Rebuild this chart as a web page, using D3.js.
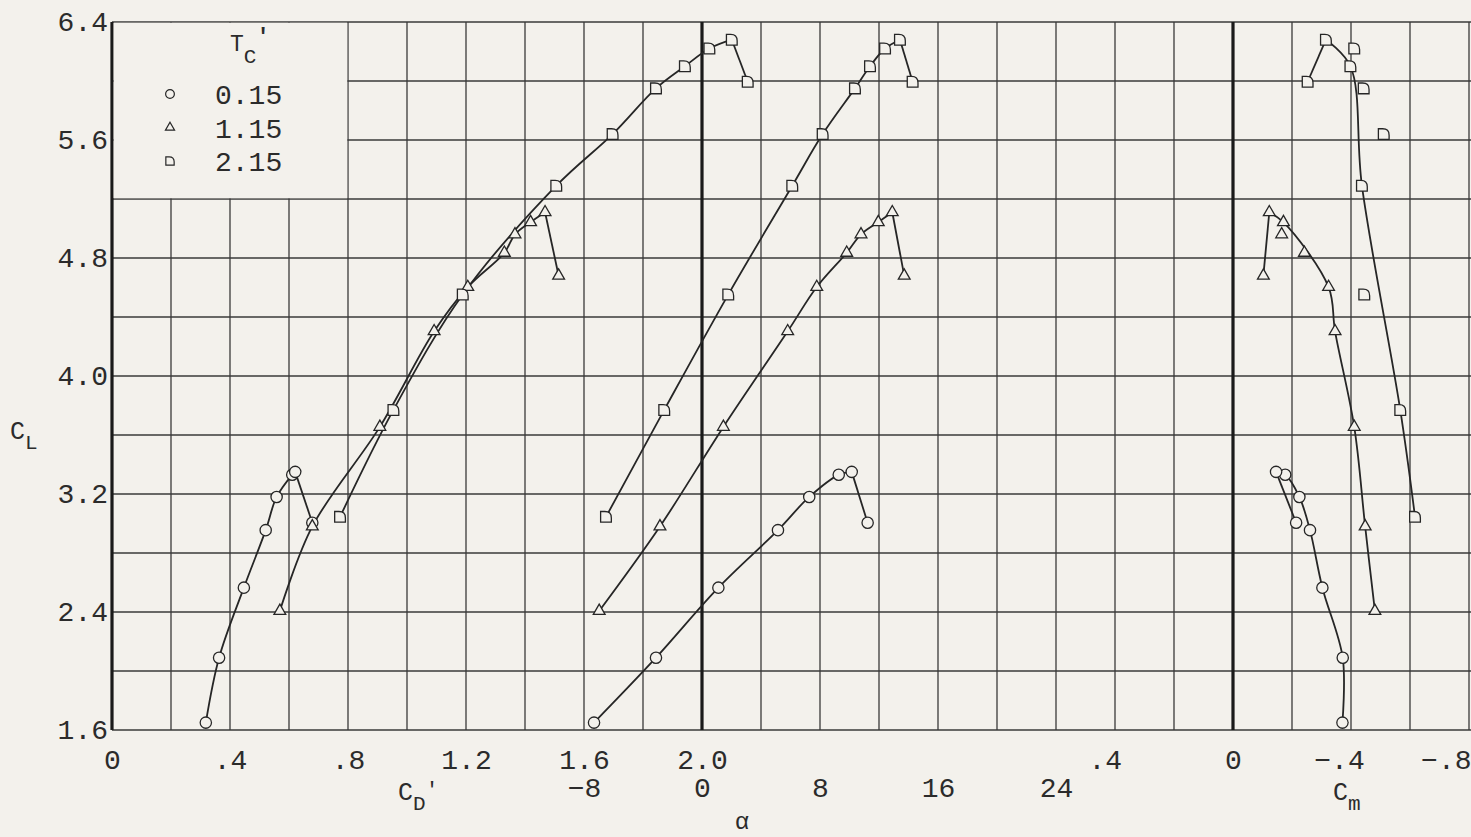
<!DOCTYPE html>
<html>
<head>
<meta charset="utf-8">
<script src="https://cdn.jsdelivr.net/npm/d3@7"></script>
<style>
  html, body { margin: 0; padding: 0; background: #f3f1ec; }
  svg text { font-family: "Liberation Mono", "DejaVu Sans Mono", monospace; fill: #2b2b2b; }
</style>
</head>
<body>
<div id="chart"></div>
<script>
// tick labels
const clTicks = [1.6, 2.4, 3.2, 4.0, 4.8, 5.6, 6.4];
const cdTicks = [0, 0.4, 0.8, 1.2, 1.6, 2.0];
const cdTickLabels = ["0", ".4", ".8", "1.2", "1.6", "2.0"];
const alphaTicks = [-8, 0, 8, 16, 24];
const alphaTickLabels = ["\u22128", "0", "8", "16", "24"];
const cmTicks = [0, -0.4, -0.8];
const cmTickLabels = ["0", "\u2212.4", "\u2212.8"];
const strayTicks = [27.3];          // lone ".4" printed under the alpha grid
const strayTickLabels = [".4"];

const tcValues = ["0.15", "1.15", "2.15"];

// Tc' = 0.15 (circles)
const cl015    = [1.65, 2.09, 2.565, 2.955, 3.18, 3.33, 3.35, 3.005];
const cd015    = [0.318, 0.363, 0.447, 0.521, 0.558, 0.611, 0.621, 0.679];
const alpha015 = [-7.32, -3.12, 1.11, 5.15, 7.27, 9.27, 10.15, 11.23];
const cm015    = [-0.371, -0.372, -0.303, -0.261, -0.225, -0.177, -0.146, -0.214];
const cmSkip015 = [];

// Tc' = 1.15 (triangles)
const cl115    = [2.407, 2.98, 3.655, 4.303, 4.603, 4.835, 4.96, 5.043, 5.11, 4.68];
const cd115    = [0.569, 0.679, 0.908, 1.092, 1.206, 1.330, 1.366, 1.419, 1.468, 1.514];
const alpha115 = [-6.97, -2.85, 1.45, 5.81, 7.78, 9.81, 10.78, 11.95, 12.90, 13.71];
const cm115    = [-0.481, -0.448, -0.411, -0.346, -0.324, -0.242, -0.165, -0.171, -0.123, -0.103];
const cmSkip115 = [5, 6];

// Tc' = 2.15 (flagged)
const cl215    = [3.045, 3.77, 4.552, 5.29, 5.64, 5.95, 6.10, 6.22, 6.28, 5.995];
const cd215    = [0.773, 0.954, 1.189, 1.506, 1.697, 1.844, 1.942, 2.025, 2.101, 2.155];
const alpha215 = [-6.51, -2.56, 1.78, 6.12, 8.18, 10.37, 11.39, 12.41, 13.42, 14.28];
const cm215    = [-0.617, -0.567, -0.445, -0.437, -0.511, -0.443, -0.398, -0.411, -0.315, -0.253];
const cmSkip215 = [2, 4, 5, 7];

const bg = "#f3f1ec";
const ink = "#262626";

const width = 1471, height = 837;
const gLeft = 112, gTop = 22, cell = 59, cols = 23, rows = 12;
const gRight = gLeft + cols * cell;
const gBottom = gTop + rows * cell;

const svg = d3.select("#chart")
    .append("svg")
    .attr("width", width)
    .attr("height", height)
    .style("display", "block")
    .style("background", bg);

// scales: one shared square grid, three x quantities on it
const col = d3.scaleLinear().domain([0, cols]).range([gLeft, gRight]);
const y = d3.scaleLinear().domain([1.6, 6.4]).range([gBottom, gTop]);
const xCd = d3.scaleLinear().domain([0, 2.0]).range([col(0), col(10)]);
const xAlpha = d3.scaleLinear().domain([0, 8]).range([col(10), col(12)]);
const xCm = d3.scaleLinear().domain([0, -0.8]).range([col(19), col(23)]);

// grid
const grid = svg.append("g");
grid.selectAll("line.h")
    .data(d3.range(rows + 1))
    .enter()
    .append("line")
    .attr("x1", gLeft).attr("x2", width)
    .attr("y1", j => y(1.6 + 0.4 * j)).attr("y2", j => y(1.6 + 0.4 * j))
    .style("stroke", "#3a3a3a")
    .style("stroke-width", 1.3);

grid.selectAll("line.v")
    .data(d3.range(cols + 1))
    .enter()
    .append("line")
    .attr("x1", i => col(i)).attr("x2", i => col(i))
    .attr("y1", gTop).attr("y2", gBottom)
    .style("stroke", i => (i === 0 || i === 10 || i === 19) ? "#1a1a1a" : "#3a3a3a")
    .style("stroke-width", i => (i === 0 || i === 10 || i === 19) ? 3.2 : 1.3);

// blank the grid behind the legend
svg.append("rect")
    .attr("x", col(0) + 1.7)
    .attr("y", y(6.4) + 0.8)
    .attr("width", col(4) - col(0) - 2.5)
    .attr("height", y(5.2) - y(6.4) - 1.6)
    .style("fill", bg);

// axes
const fs = 28;
function styleAxis(g) {
    g.select(".domain").remove();
    g.selectAll("text")
        .style("font-size", fs + "px")
        .style("font-family", '"Liberation Mono", "DejaVu Sans Mono", monospace')
        .style("fill", "#2b2b2b");
}

svg.append("g")
    .attr("transform", `translate(${gLeft},0)`)
    .call(d3.axisLeft(y).tickValues(clTicks).tickFormat(d3.format(".1f")).tickSize(0).tickPadding(4))
    .call(styleAxis);

svg.append("g")
    .attr("transform", `translate(0,${gBottom})`)
    .call(d3.axisBottom(xCd).tickValues(cdTicks).tickFormat((d, i) => cdTickLabels[i]).tickSize(0).tickPadding(19))
    .call(styleAxis);

svg.append("g")
    .attr("transform", `translate(0,${gBottom})`)
    .call(d3.axisBottom(xAlpha).tickValues(strayTicks).tickFormat((d, i) => strayTickLabels[i]).tickSize(0).tickPadding(19))
    .call(styleAxis);

const cmAxis = svg.append("g")
    .attr("transform", `translate(0,${gBottom})`)
    .call(d3.axisBottom(xCm).tickValues(cmTicks).tickFormat((d, i) => cmTickLabels[i]).tickSize(0).tickPadding(19))
    .call(styleAxis);
cmAxis.selectAll("text").filter((d, i) => i === 1)
    .attr("dx", -12);
cmAxis.selectAll("text").filter((d, i) => i === cmTicks.length - 1)
    .attr("text-anchor", "end")
    .attr("dx", 2);

svg.append("g")
    .attr("transform", `translate(0,${gBottom})`)
    .call(d3.axisBottom(xAlpha).tickValues(alphaTicks).tickFormat((d, i) => alphaTickLabels[i]).tickSize(0).tickPadding(47))
    .call(styleAxis);

// axis titles
function subLabel(x, yb, main, sub, extra) {
    const t = svg.append("text").attr("x", x).attr("y", yb).style("font-size", "25px");
    t.append("tspan").text(main);
    t.append("tspan").attr("dy", 10).style("font-size", "21px").text(sub);
    if (extra) t.append("tspan").attr("dy", -14).style("font-size", "21px").text(extra);
    return t;
}
subLabel(10, 439, "C", "L");
subLabel(398, 800, "C", "D", "\u2032");
subLabel(1333, 800, "C", "m");
svg.append("text")
    .attr("x", 742).attr("y", 829)
    .attr("text-anchor", "middle")
    .style("font-size", "24px")
    .text("\u03b1");

// symbols
const symbolFlag = {
    draw(ctx, size) {
        const r = Math.sqrt(size) / 2;
        ctx.moveTo(-r, r);
        ctx.lineTo(-r, -r);
        ctx.lineTo(-r * 0.2, -r);
        ctx.quadraticCurveTo(r, -r, r, r * 0.2);
        ctx.lineTo(r, r);
        ctx.closePath();
    }
};
const symbolTypes = [d3.symbolCircle, d3.symbolTriangle, symbolFlag];
const symbolSizes = [100, 60, 115];

const series = [
    { cl: cl015, cd: cd015, alpha: alpha015, cm: cm015, cmSkip: cmSkip015 },
    { cl: cl115, cd: cd115, alpha: alpha115, cm: cm115, cmSkip: cmSkip115 },
    { cl: cl215, cd: cd215, alpha: alpha215, cm: cm215, cmSkip: cmSkip215 }
];

const panels = [
    { key: "cd", x: xCd },
    { key: "alpha", x: xAlpha },
    { key: "cm", x: xCm, skip: "cmSkip" }
];

const faired = d3.line().x(d => d.x).y(d => d.y).curve(d3.curveCatmullRom.alpha(0.5));
const straight = d3.line().x(d => d.x).y(d => d.y);

const curves = svg.append("g");
const marks = svg.append("g");

series.forEach((s, si) => {
    panels.forEach(p => {
        const pts = s.cl.map((c, i) => ({ i: i, x: p.x(s[p.key][i]), y: y(c) }));
        const skip = p.skip ? s[p.skip] : [];
        const last = pts.length - 1;
        const fair = pts.filter(d => d.i < last && !skip.includes(d.i));

        curves.append("path")
            .datum(fair)
            .attr("d", faired)
            .style("fill", "none")
            .style("stroke", ink)
            .style("stroke-width", 1.8);

        curves.append("path")
            .datum([fair[fair.length - 1], pts[last]])
            .attr("d", straight)
            .style("fill", "none")
            .style("stroke", ink)
            .style("stroke-width", 1.8);

        marks.selectAll(null)
            .data(pts)
            .enter()
            .append("path")
            .attr("transform", d => `translate(${d.x},${d.y})`)
            .attr("d", d3.symbol(symbolTypes[si], symbolSizes[si]))
            .style("fill", bg)
            .style("stroke", ink)
            .style("stroke-width", 1.3);
    });
});

// legend
const legend = svg.append("g");
const lt = legend.append("text").attr("x", 230).attr("y", 51).style("font-size", "23px");
lt.append("tspan").text("T");
lt.append("tspan").attr("dy", 12).style("font-size", "21px").text("C");
lt.append("tspan").attr("dy", -20).style("font-size", "22px").style("font-weight", "bold").text("'");

const legendY = d3.scalePoint().domain(tcValues).range([94, 161]);
tcValues.forEach((v, si) => {
    legend.append("path")
        .attr("transform", `translate(170,${legendY(v)})`)
        .attr("d", d3.symbol(symbolTypes[si], symbolSizes[si] * 0.6))
        .style("fill", bg)
        .style("stroke", ink)
        .style("stroke-width", 1.2);
    legend.append("text")
        .attr("x", 215)
        .attr("y", legendY(v) + 10)
        .style("font-size", fs + "px")
        .text(v);
});
</script>
</body>
</html>
